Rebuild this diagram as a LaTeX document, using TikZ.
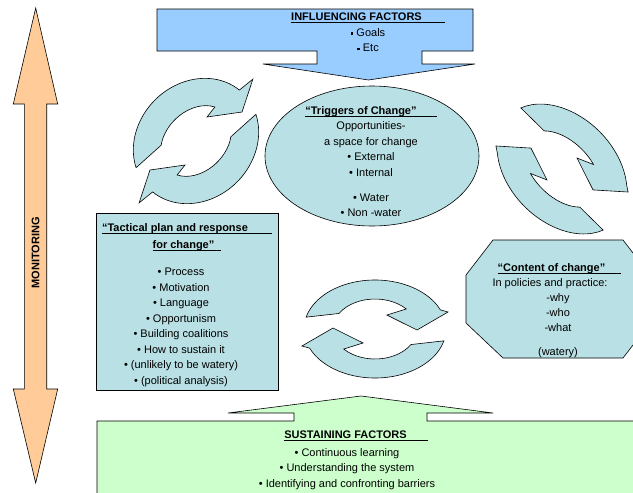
\documentclass[tikz,border=0pt]{standalone}
\usepackage{fontspec}
\setmainfont{Liberation Sans}
\definecolor{circfill}{RGB}{185,224,228}
\definecolor{inflfill}{RGB}{153,204,255}
\definecolor{sustfill}{RGB}{204,255,204}
\definecolor{monfill}{RGB}{255,204,153}
\newcommand\myul[2]{\setbox0\hbox{#1}\rlap{\rule[-2.2pt]{\dimexpr\wd0+#2\relax}{0.8pt}}\box0\hspace*{#2}}
\newcommand\sqb{\rule[1.6pt]{2.6pt}{2.6pt}}
\begin{document}
\begin{tikzpicture}[x=1pt,y=-1pt,
  shapeline/.style={draw=black, line width=0.6pt, line join=miter},
  circarrow/.style={shapeline, fill=circfill},
  txt/.style={inner sep=0pt, align=center, font=\fontsize{11}{15.5}\selectfont},
 ]
\useasboundingbox (0,0) rectangle (633,493);
\clip (0,0) rectangle (633,493);

% Monitoring double arrow
\draw[shapeline, fill=monfill] (35.7,8) -- (57.7,104) -- (46.7,104) -- (46.7,389) -- (57.7,389) -- (35.7,483) -- (13.3,389) -- (24.3,389) -- (24.3,104) -- (13.3,104) -- cycle;
\node[txt, rotate=90, font=\bfseries\fontsize{11}{13}\selectfont] (mon) at (35.7,253) {MONITORING};

% Influencing factors callout
\draw[shapeline, fill=inflfill] (157,9) -- (473,9) -- (473,51) -- (422,51) -- (422,64) -- (475,64) -- (368.5,80) -- (263,64) -- (317,64) -- (317,51) -- (157,51) -- cycle;
\node[txt, anchor=north] (infl) at (368,13) {\myul{\textbf{INFLUENCING FACTORS}}{23pt}\\ \sqb\ Goals\\ \sqb\ Etc};

% Sustaining factors callout
\draw[shapeline, fill=sustfill] (97,421) -- (294,421) -- (294,413) -- (228,413) -- (361,396) -- (493,413) -- (427,413) -- (427,421) -- (645,421) -- (645,505) -- (97,505) -- cycle;
\node[txt, anchor=north] (susttitle) at (356,431) {\myul{\textbf{SUSTAINING FACTORS}}{21pt}};
\node[txt, anchor=north] (sustbody) at (347,448) {• Continuous learning\\ • Understanding the system\\ • Identifying and confronting barriers};

% Circular arrows: left pair
\begin{scope}[shift={(196,141)}, rotate=45]
  \foreach \r in {0,180}{
    \draw[circarrow, rotate=\r] (156.1:67pt and 58pt) arc[start angle=156.1, end angle=5.3, x radius=67pt, y radius=58pt] -- (2.4:84pt) -- (-12.8:54.4pt) -- (20.4:26.4pt) -- (20.9:40pt and 30pt) arc[start angle=20.9, end angle=133.8, x radius=40pt, y radius=30pt] -- cycle;
  }
\end{scope}
% right pair
\begin{scope}[shift={(562,169)}, rotate=135]
  \foreach \r in {0,180}{
    \draw[circarrow, rotate=\r] (-15.4:75pt and 53pt) arc[start angle=-15.4, end angle=-139.6, x radius=75pt, y radius=53pt] -- (-154.2:70pt) -- (-169:37.4pt) -- (-99:18.6pt) -- (-114.6:46pt and 28pt) arc[start angle=-114.6, end angle=-30.9, x radius=46pt, y radius=28pt] -- cycle;
  }
\end{scope}
% bottom pair
\begin{scope}[shift={(375,329)}]
  \foreach \r in {0,180}{
    \draw[circarrow, rotate=\r] (166:71pt and 49pt) arc[start angle=166, end angle=23, x radius=71pt, y radius=49pt] -- (13.1:75pt) -- (-1.4:42pt) -- (49.4:18.4pt) -- (41.9:42pt and 30pt) arc[start angle=41.9, end angle=148.8, x radius=42pt, y radius=30pt] -- cycle;
  }
\end{scope}

% Triggers of change
\draw[shapeline, fill=circfill] (372,156) ellipse [x radius=107pt, y radius=70pt];
\node[txt, anchor=north] (trig) at (371,106) {\myul{\textbf{“Triggers of Change”}}{20pt}\\ Opportunities-\\ a space for change\\ • External\\ • Internal\\[9.5pt] • Water\\ • Non -water};

% Tactical plan
\draw[shapeline, fill=circfill] (96,213) rectangle (278,390);
\node[txt, anchor=north] (tacttitle) at (187,223) {\myul{\textbf{“Tactical plan and response}}{24pt}\\[1.5pt] \myul{\textbf{for change”}}{7pt}};
\node[txt, anchor=north] (tactbody) at (181,268) {• Process\\ • Motivation\\ • Language\\ • Opportunism\\ • Building coalitions\\ • How to sustain it\\ • (unlikely to be watery)\\ • (political analysis)};

% Content of change
\draw[shapeline, fill=circfill] (493,240) -- (623,240) -- (650,275) -- (650,323) -- (623,358) -- (503,358) -- (466,323) -- (466,275) -- cycle;
\node[txt, anchor=north] (conttitle) at (559.5,263) {\myul{\textbf{“Content of change”}}{16pt}};
\node[txt, anchor=north] (contsub) at (550,278) {In policies and practice:};
\node[txt, anchor=north] (contbody) at (558,293) {-why\\[-0.5pt] -who\\[-0.5pt] -what\\[9pt] (watery)};
\end{tikzpicture}
\end{document}
